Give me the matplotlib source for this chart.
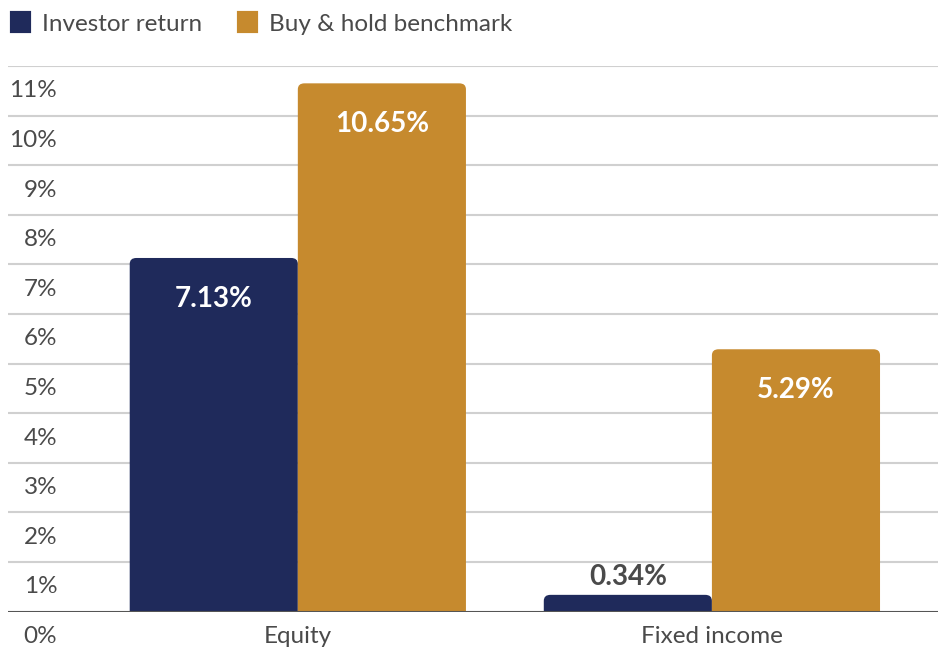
import matplotlib.pyplot as plt
from matplotlib.patches import FancyBboxPatch, Patch

categories = ["Equity", "Fixed income"]
investor = [7.13, 0.34]
benchmark = [10.65, 5.29]
series_names = ["Investor return", "Buy & hold benchmark"]
y_ticks = list(range(0, 12))

NAVY = "#1f2a5b"
GOLD = "#c68a2e"
TEXT = "#4a4a4a"


def rounded_bars(ax, bars, color):
	# swap the square bars for ones with rounded tops
	for b in bars:
		x, w, h = b.get_x(), b.get_width(), b.get_height()
		b.set_visible(False)
		p = FancyBboxPatch((x, -1), w, h + 1,
						   boxstyle="round,pad=0,rounding_size=0.016",
						   mutation_aspect=7.5, facecolor=color,
						   edgecolor="none", zorder=3)
		ax.add_patch(p)


def main():
	plt.rcParams['font.family'] = ['Lato', 'DejaVu Sans']
	fig = plt.figure(figsize=(9.38, 6.5), dpi=100)
	ax = fig.add_axes([0.0085, 0.0589, 0.9915, 0.8396])

	width = 0.406
	xs = list(range(len(categories)))
	b1 = ax.bar([x - width / 2 for x in xs], investor, width, color=NAVY)
	b2 = ax.bar([x + width / 2 for x in xs], benchmark, width, color=GOLD)
	rounded_bars(ax, b1, NAVY)
	rounded_bars(ax, b2, GOLD)

	ax.set_xlim(-0.70, 1.546)
	ax.set_ylim(0, 11)

	for t in y_ticks[1:]:
		ax.axhline(t, color="#d0d0d0", lw=1.5, zorder=1)
	ax.axhline(0, color="#555555", lw=1.5, zorder=4)
	for t in y_ticks:
		ax.text(0.053, t - 0.5, f"{t}%", transform=ax.get_yaxis_transform(),
				ha="right", va="center", fontsize=17.5, color=TEXT)

	for x, c in zip(xs, categories):
		ax.text(x, -0.5, c, ha="center", va="center", fontsize=17.5, color=TEXT)

	for x, v in zip(xs, investor):
		if v > 1:
			ax.text(x - width / 2, v - 0.82, f"{v:.2f}%", ha="center", va="center",
					fontsize=20, fontweight="bold", color="white", zorder=5)
		else:
			ax.text(x - width / 2, v + 0.36, f"{v:.2f}%", ha="center", va="center",
					fontsize=20, fontweight="bold", color=TEXT, zorder=5)
	for x, v in zip(xs, benchmark):
		ax.text(x + width / 2, v - 0.82, f"{v:.2f}%", ha="center", va="center",
				fontsize=20, fontweight="bold", color="white", zorder=5)

	ax.axis("off")

	handles = [Patch(facecolor=c, edgecolor=c, linewidth=3, joinstyle="round")
			   for c in (NAVY, GOLD)]
	leg = fig.legend(handles, series_names, loc="center left",
					 bbox_to_anchor=(12 / 938, 1 - 24 / 650),
					 ncol=2, frameon=False, fontsize=17.5, handlelength=0.7,
					 handleheight=0.7, handletextpad=0.55, columnspacing=1.5,
					 borderpad=0, borderaxespad=0)
	for t in leg.get_texts():
		t.set_color(TEXT)

	fig.savefig("out.png", dpi=100)


if __name__ == '__main__':
	main()
